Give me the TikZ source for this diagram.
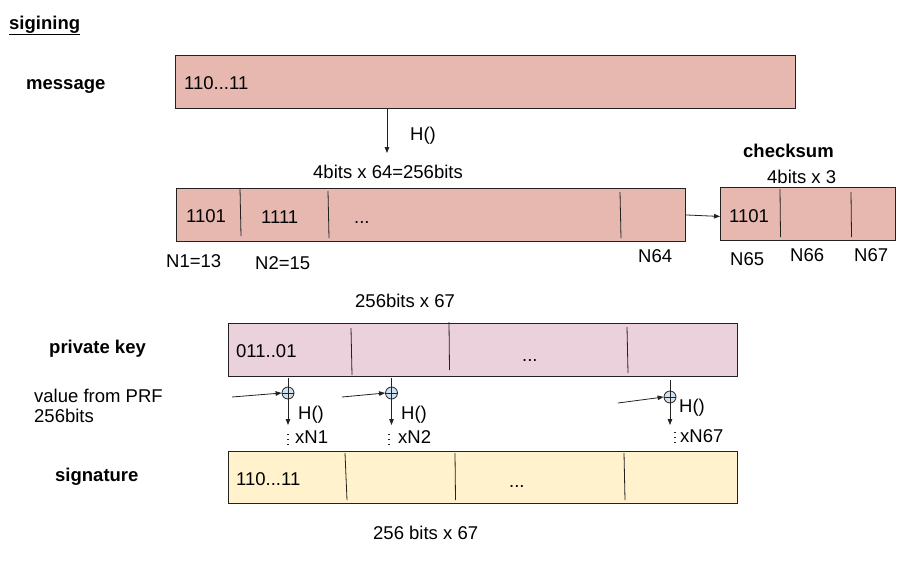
\documentclass[tikz,border=0pt]{standalone}
\usepackage{fontspec}
\setmainfont{Liberation Sans}
\usetikzlibrary{arrows.meta}
\definecolor{msgfill}{HTML}{E6B8AF}
\definecolor{pkfill}{HTML}{EAD1DC}
\definecolor{sigfill}{HTML}{FFF2CC}
\definecolor{xorfill}{HTML}{CFE2F3}
\definecolor{edge}{HTML}{222222}
\tikzset{
  box/.style={draw=edge, line width=0.9pt, inner sep=0pt, anchor=north west},
  lbl/.style={font=\fontsize{18.5}{21}\selectfont, inner sep=0pt, anchor=base west},
  blbl/.style={font=\fontsize{18.5}{21}\selectfont\bfseries, inner sep=0pt, anchor=base west},
  divider/.style={draw=edge, line width=0.8pt},
  arr/.style={draw=edge, line width=0.8pt, -{Triangle[length=6pt,width=4.5pt]}},
  plain/.style={draw=edge, line width=0.8pt},
  dots/.style={draw=edge, line width=1.3pt, dash pattern=on 1.3pt off 3.7pt},
  xor/.style={circle, draw=edge, fill=xorfill, line width=0.8pt, minimum size=12pt, inner sep=0pt,
    path picture={\draw[line width=0.7pt] (path picture bounding box.north) -- (path picture bounding box.south)
      (path picture bounding box.west) -- (path picture bounding box.east);}}
}
\begin{document}
\begin{tikzpicture}[x=1pt,y=-1pt]
\useasboundingbox (0,0) rectangle (917,568);
% title and row labels
\node[blbl] (title) at (9,29) {\underline{sigining}};
\node[blbl] (lmsg) at (26,89) {message};
\node[blbl] (lpk) at (49,353) {private key};
\node[lbl] (lprf1) at (34,402) {value from PRF};
\node[lbl] (lprf2) at (34,422) {256bits};
\node[blbl] (lsig) at (55,481) {signature};
% message
\node[box, fill=msgfill, minimum width=620pt, minimum height=53pt] (msg) at (175,55) {};
\node[lbl] (tmsg) at (184,89) {110...11};
\coordinate (hT) at (387,153);
\draw[arr] (msg.south -| hT) -- (hT);
\node[lbl] (th) at (410,140) {H()};
\node[lbl] (t4b) at (313,178) {4bits x 64=256bits};
% hash rectangle
\node[box, fill=msgfill, minimum width=509pt, minimum height=53pt] (hash) at (176,188) {};
\draw[divider] (240,188) -- (241,236);
\draw[divider] (328,191) -- (329,238);
\draw[divider] (620,192) -- (621,238);
\node[lbl] (t1101) at (186,222.5) {1101};
\node[lbl] (t1111) at (261,223) {1111};
\node[lbl] (tdots1) at (354,223) {...};
\node[lbl] (n1) at (166,267) {N1=13};
\node[lbl] (n2) at (255,269) {N2=15};
\node[lbl] (n64) at (638,262) {N64};
% checksum
\node[blbl] (lcks) at (743,157) {checksum};
\node[lbl] (t4b3) at (767,183) {4bits x 3};
\node[box, fill=msgfill, minimum width=175pt, minimum height=53pt] (cks) at (720,187) {};
\draw[divider] (780,189) -- (780.5,237);
\draw[divider] (851,192) -- (851.5,237);
\node[lbl] (tc1101) at (729,222) {1101};
\node[lbl] (n65) at (730,265) {N65};
\node[lbl] (n66) at (790,261) {N66};
\node[lbl] (n67) at (854,261) {N67};
\draw[arr] (hash.east) -- ([yshift=-2.5pt]cks.west);
% private key
\node[lbl] (t256a) at (355,307) {256bits x 67};
\node[box, fill=pkfill, minimum width=509pt, minimum height=53pt] (pk) at (228,323) {};
\draw[divider] (351,328) -- (352,375);
\draw[divider] (449,322) -- (449.5,370);
\draw[divider] (627,327) -- (628,373);
\node[lbl] (tpk) at (236,357) {011..01};
\node[lbl] (tdots2) at (522,361) {...};
% xor chains
\node[xor] (x1) at (288,393) {};
\node[xor] (x2) at (391.5,393) {};
\node[xor] (x3) at (670,397) {};
\coordinate (t1) at (288,378);
\coordinate (t2) at (391.5,378);
\coordinate (t3) at (670,380);
\draw[plain] (t1) -- (x1.north);
\draw[plain] (t2) -- (x2.north);
\draw[plain] (t3) -- (x3.north);
\coordinate (s1) at (232,397);
\coordinate (s2) at (342,397);
\coordinate (s3) at (618,403);
\draw[arr] (s1) -- (x1.west);
\draw[arr] (s2) -- (x2.west);
\draw[arr] (s3) -- (x3.west);
\coordinate (a1) at (288,425);
\coordinate (a2) at (391.5,425);
\coordinate (a3) at (670,425);
\draw[arr] (x1.south) -- (a1);
\draw[arr] (x2.south) -- (a2);
\draw[arr] (x3.south) -- (a3);
\node[lbl] (h1) at (298,419) {H()};
\node[lbl] (h2) at (401,419) {H()};
\node[lbl] (h3) at (679,412) {H()};
\coordinate (d1) at (288,434);
\coordinate (d2) at (389,434);
\coordinate (d3) at (675,432);
\draw[dots] (d1) -- ++(0,13);
\draw[dots] (d2) -- ++(0,13);
\draw[dots] (d3) -- ++(0,12);
\node[lbl] (xn1) at (295,443) {xN1};
\node[lbl] (xn2) at (398,443) {xN2};
\node[lbl] (xn67) at (680,442) {xN67};
% signature
\node[box, fill=sigfill, minimum width=509pt, minimum height=52pt] (sig) at (228,451) {};
\draw[divider] (345,453) -- (347,500);
\draw[divider] (455,453) -- (455.5,500);
\draw[divider] (624,453) -- (625,500);
\node[lbl] (tsig) at (236,485) {110...11};
\node[lbl] (tdots3) at (509,487) {...};
\node[lbl] (t256b) at (373,539) {256 bits x 67};
\end{tikzpicture}
\end{document}
